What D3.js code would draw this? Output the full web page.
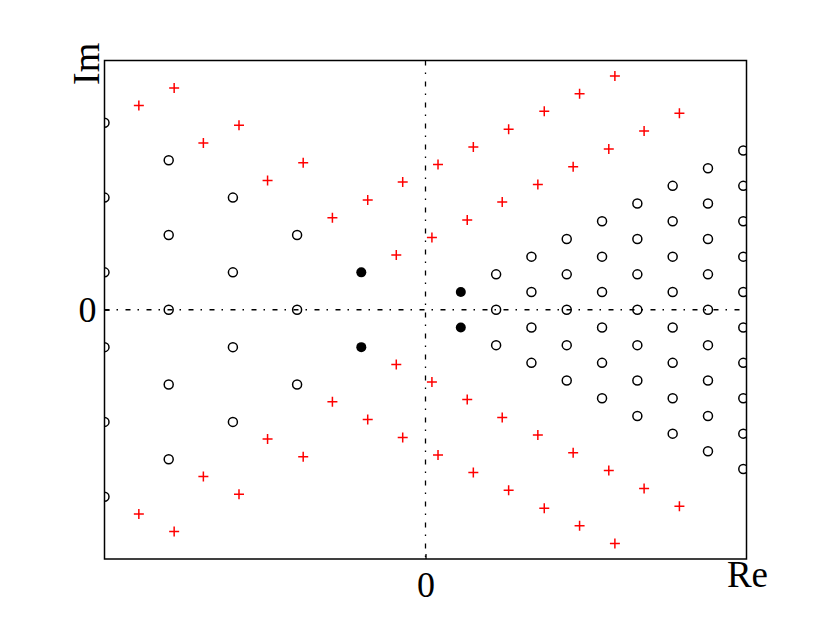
<!DOCTYPE html>
<html>
<head>
<meta charset="utf-8">
<script src="https://cdn.jsdelivr.net/npm/d3@7"></script>
<style>
  html, body { margin: 0; padding: 0; background: #fff; }
  svg { display: block; }
  text { font-family: "Liberation Serif", "DejaVu Serif", serif; }
</style>
</head>
<body>
<svg id="chart" width="830" height="622"></svg>
<script>
// ---- data (complex-plane points) ----
const xTicks = [0];
const yTicks = [0];
const axisLabels = ["Re", "Im"];

// open circles
const openRe = [
  -4, -4, -4,
  -6, -6, -6, -6,
  -8, -8, -8, -8, -8,
  -10, -10, -10, -10, -10, -10,
  2.2, 2.2, 2.2,
  3.3, 3.3, 3.3, 3.3,
  4.4, 4.4, 4.4, 4.4, 4.4,
  5.5, 5.5, 5.5, 5.5, 5.5, 5.5,
  6.6, 6.6, 6.6, 6.6, 6.6, 6.6, 6.6,
  7.7, 7.7, 7.7, 7.7, 7.7, 7.7, 7.7, 7.7,
  8.8, 8.8, 8.8, 8.8, 8.8, 8.8, 8.8, 8.8, 8.8,
  9.9, 9.9, 9.9, 9.9, 9.9, 9.9, 9.9, 9.9, 9.9, 9.9
];
const openIm = [
  3, 0, -3,
  4.5, 1.5, -1.5, -4.5,
  6, 3, 0, -3, -6,
  7.5, 4.5, 1.5, -1.5, -4.5, -7.5,
  1.42, 0, -1.42,
  2.13, 0.71, -0.71, -2.13,
  2.84, 1.42, 0, -1.42, -2.84,
  3.55, 2.13, 0.71, -0.71, -2.13, -3.55,
  4.26, 2.84, 1.42, 0, -1.42, -2.84, -4.26,
  4.97, 3.55, 2.13, 0.71, -0.71, -2.13, -3.55, -4.97,
  5.68, 4.26, 2.84, 1.42, 0, -1.42, -2.84, -4.26, -5.68,
  6.39, 4.97, 3.55, 2.13, 0.71, -0.71, -2.13, -3.55, -4.97, -6.39
];

// filled circles
const filledRe = [-2, -2, 1.1, 1.1];
const filledIm = [1.5, -1.5, 0.71, -0.71];

// red plus markers
const plusRe = [
  -8.93, -7.83, -6.92, -5.81, -4.92, -3.81, -2.90, -1.80, -0.91, -0.71, 0.20, 0.39,
  1.30, 1.49, 2.39, 2.59, 3.50, 3.70, 4.60, 4.80, 5.71, 5.90, 6.81, 7.91,
  -8.93, -7.83, -6.92, -5.81, -4.92, -3.81, -2.90, -1.80, -0.91, -0.71, 0.20, 0.39,
  1.30, 1.49, 2.39, 2.59, 3.50, 3.70, 4.60, 4.80, 5.71, 5.90, 6.81, 7.91
];
const plusIm = [
  8.19, 8.90, 6.69, 7.40, 5.19, 5.90, 3.69, 4.40, 2.20, 5.13, 2.90, 5.83,
  3.60, 6.53, 4.32, 7.24, 5.03, 7.96, 5.74, 8.67, 6.45, 9.38, 7.17, 7.88,
  -8.19, -8.90, -6.69, -7.40, -5.19, -5.90, -3.69, -4.40, -2.20, -5.13, -2.90, -5.83,
  -3.60, -6.53, -4.32, -7.24, -5.03, -7.96, -5.74, -8.67, -6.45, -9.38, -7.17, -7.88
];

// ---- drawing ----
const svg = d3.select("#chart");
const x = d3.scaleLinear().domain([-10, 10]).range([104.5, 746.5]);
const y = d3.scaleLinear().domain([-10, 10]).range([559, 60.5]);

const [x0, x1] = x.range();
const [yb, yt] = y.range();

svg.append("defs").append("clipPath").attr("id", "plotclip")
  .append("rect")
  .attr("x", x0).attr("y", yt)
  .attr("width", x1 - x0).attr("height", yb - yt);

const plot = svg.append("g").attr("clip-path", "url(#plotclip)");

// dash-dot zero lines
plot.append("line")
  .attr("x1", x0).attr("x2", x1)
  .attr("y1", y(0)).attr("y2", y(0))
  .attr("stroke", "#000").attr("stroke-width", 1.3)
  .attr("stroke-dasharray", "5,7,1.5,7.5");
plot.append("line")
  .attr("x1", x(0)).attr("x2", x(0))
  .attr("y1", yt).attr("y2", yb)
  .attr("stroke", "#000").attr("stroke-width", 1.3)
  .attr("stroke-dasharray", "5,7,1.5,7.5");

// open circles
plot.selectAll("circle.open")
  .data(d3.range(openRe.length))
  .join("circle")
  .attr("class", "open")
  .attr("cx", i => x(openRe[i]))
  .attr("cy", i => y(openIm[i]))
  .attr("r", 4.5)
  .attr("fill", "none")
  .attr("stroke", "#000")
  .attr("stroke-width", 1.5);

// filled circles
plot.selectAll("circle.filled")
  .data(d3.range(filledRe.length))
  .join("circle")
  .attr("class", "filled")
  .attr("cx", i => x(filledRe[i]))
  .attr("cy", i => y(filledIm[i]))
  .attr("r", 5)
  .attr("fill", "#000");

// plus markers
plot.selectAll("path.plus")
  .data(d3.range(plusRe.length))
  .join("path")
  .attr("class", "plus")
  .attr("transform", i => `translate(${x(plusRe[i])},${y(plusIm[i])})`)
  .attr("d", "M-5,0H5M0,-5V5")
  .attr("stroke", "#ff0000")
  .attr("stroke-width", 1.5)
  .attr("fill", "none");

// frame
svg.append("rect")
  .attr("x", x0).attr("y", yt)
  .attr("width", x1 - x0).attr("height", yb - yt)
  .attr("fill", "none")
  .attr("stroke", "#000")
  .attr("stroke-width", 1.5);

// axes with tick labels
const xAxis = d3.axisBottom(x).tickValues(xTicks).tickFormat(d3.format("d"))
  .tickSizeInner(-5).tickSizeOuter(0).tickPadding(12);
const gx = svg.append("g").attr("transform", `translate(0,${yb})`).call(xAxis);
gx.select(".domain").remove();
gx.selectAll("text").attr("font-size", 36).attr("font-family", "Liberation Serif").attr("fill", "#000");
gx.selectAll("line").attr("stroke-width", 1.3);

const yAxis = d3.axisLeft(y).tickValues(yTicks).tickFormat(d3.format("d"))
  .tickSizeInner(-5).tickSizeOuter(0).tickPadding(8);
const gy = svg.append("g").attr("transform", `translate(${x0},0)`).call(yAxis);
gy.select(".domain").remove();
gy.selectAll("text").attr("font-size", 36).attr("font-family", "Liberation Serif").attr("fill", "#000");
gy.selectAll("line").attr("stroke-width", 1.3);

// axis name labels
svg.append("text")
  .attr("x", x1 + 1).attr("y", 587)
  .attr("text-anchor", "middle")
  .attr("font-size", 37)
  .attr("fill", "#000")
  .text(axisLabels[0]);

svg.append("text")
  .attr("transform", `translate(99,85) rotate(-90)`)
  .attr("text-anchor", "start")
  .attr("font-size", 38)
  .attr("fill", "#000")
  .text(axisLabels[1]);
</script>
</body>
</html>
